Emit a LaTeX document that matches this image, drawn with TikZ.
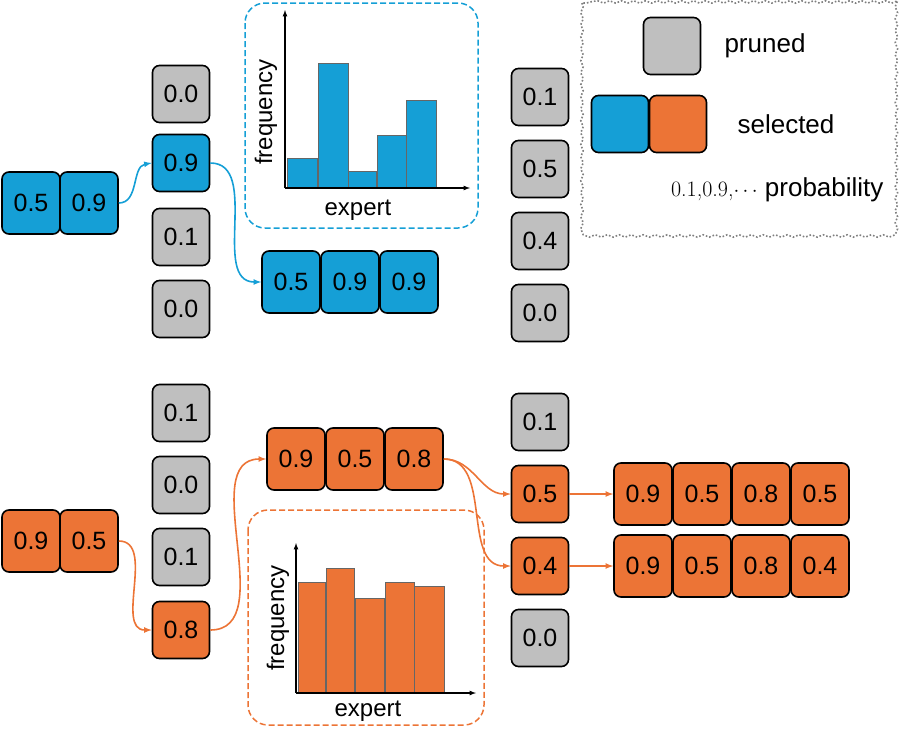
\documentclass[tikz,border=0pt]{standalone}
\usepackage{fontspec}
\setmainfont{Liberation Sans}
\usetikzlibrary{decorations.pathmorphing}
\definecolor{cb}{HTML}{159FD6}
\definecolor{co}{HTML}{EC7436}
\definecolor{cg}{HTML}{BFBFBF}
\begin{document}
\begin{tikzpicture}[x=1pt,y=-1pt,
 cell/.style={draw=black,line width=1.6pt,rounded corners=7pt,minimum width=57pt,minimum height=57pt,inner sep=0pt,font=\fontsize{25}{25}\selectfont},
 gcell/.style={cell,fill=cg},
 bcell/.style={cell,fill=cb},
 ocell/.style={cell,fill=co},
 wide/.style={minimum width=58pt,minimum height=62pt},
 barb/.style={draw=black!60,line width=0.5pt,fill=cb},
 baro/.style={draw=black!60,line width=0.5pt,fill=co},
 ax/.style={line width=1.2pt,-latex},
 lab/.style={font=\fontsize{24}{24}\selectfont},
 ba/.style={cb,line width=1.6pt,-latex},
 oa/.style={co,line width=1.6pt,-latex}]
\useasboundingbox (0,0) rectangle (900,729);
% blue left pair
\node[bcell,wide] (b1) at (31,203) {0.5};
\node[bcell,wide] (b2) at (89,203) {0.9};
% left top column
\node[gcell] (c1) at (181,94) {0.0};
\node[bcell] (c2) at (181,163) {0.9};
\node[gcell] (c3) at (181,237) {0.1};
\node[gcell] (c4) at (181,309) {0.0};
% blue triple
\node[bcell,wide] (t1) at (291,282) {0.5};
\node[bcell,wide] (t2) at (350,282) {0.9};
\node[bcell,wide] (t3) at (409,282) {0.9};
% right top column
\node[gcell] (r1) at (540,97) {0.1};
\node[gcell] (r2) at (540,169) {0.5};
\node[gcell] (r3) at (540,241) {0.4};
\node[gcell] (r4) at (540,313) {0.0};
% bottom left column
\node[gcell] (d1) at (181,413) {0.1};
\node[gcell] (d2) at (181,485) {0.0};
\node[gcell] (d3) at (181,557) {0.1};
\node[ocell] (d4) at (181,630) {0.8};
% orange pair
\node[ocell,wide] (o1) at (31,541) {0.9};
\node[ocell,wide] (o2) at (89,541) {0.5};
% orange triple
\node[ocell,wide] (p1) at (296,459) {0.9};
\node[ocell,wide] (p2) at (355,459) {0.5};
\node[ocell,wide] (p3) at (414,459) {0.8};
% right bottom column
\node[gcell] (e1) at (540,422) {0.1};
\node[ocell] (e2) at (540,494) {0.5};
\node[ocell] (e3) at (540,566) {0.4};
\node[gcell] (e4) at (540,638) {0.0};
% quads
\node[ocell,wide] (q1) at (643,494) {0.9};
\node[ocell,wide] (q2) at (702,494) {0.5};
\node[ocell,wide] (q3) at (761,494) {0.8};
\node[ocell,wide] (q4) at (820,494) {0.5};
\node[ocell,wide] (s1) at (643,566) {0.9};
\node[ocell,wide] (s2) at (702,566) {0.5};
\node[ocell,wide] (s3) at (761,566) {0.8};
\node[ocell,wide] (s4) at (820,566) {0.4};
% arrows
\draw[ba] (b2.east) to[out=0,in=190] (c2.west);
\draw[ba] (c2.east) to[out=0,in=180] (t1.west);
\draw[oa] (o2.east) to[out=0,in=180] (d4.west);
\draw[oa] (d4.east) to[out=0,in=180] (p1.west);
\draw[oa] (p3.east) to[out=0,in=180] (e2.west);
\draw[oa] (p3.east) to[out=0,in=180] (e3.west);
\draw[oa] (e2.east) -- (q1.west);
\draw[oa] (e3.east) -- (s1.west);
% top histogram
\draw[cb,line width=1.5pt,dashed,dash pattern=on 6pt off 3pt,rounded corners=20pt] (245,3) rectangle (478,228);
\draw[barb] (287,188) rectangle (317,158);
\draw[barb] (318,188) rectangle (348,63);
\draw[barb] (348,188) rectangle (376,171);
\draw[barb] (377,188) rectangle (406,135);
\draw[barb] (406,188) rectangle (436,100);
\draw[ax] (285,188) -- (285,10);
\draw[ax] (285,188) -- (470,188);
\node[lab,rotate=90] (hf1) at (266,112) {frequency};
\node[lab] (he1) at (358,210) {expert};
% bottom histogram
\draw[co,line width=1.5pt,dash pattern=on 6pt off 3pt,rounded corners=20pt] (248,510) rectangle (484,725);
\draw[baro] (298,693) rectangle (325,582);
\draw[baro] (326,693) rectangle (354,568);
\draw[baro] (355,693) rectangle (384,598);
\draw[baro] (385,693) rectangle (414,582);
\draw[baro] (414,693) rectangle (444,586);
\draw[ax] (296,693) -- (296,543);
\draw[ax] (296,693) -- (476,693);
\node[lab,rotate=90] (hf2) at (278,618) {frequency};
\node[lab] (he2) at (368,711) {expert};
% legend
\draw[black!50,line width=1.6pt,dotted,decorate,decoration={snake,amplitude=1.2pt,segment length=12pt}] (582,3) rectangle (895,233);
\node[gcell] (lg) at (672,46) {};
\node[bcell] (lb) at (620,124) {};
\node[ocell] (lo) at (678,124) {};
\node[lab,font=\fontsize{26}{26}\selectfont] (lt1) at (765,46) {pruned};
\node[lab,font=\fontsize{26}{26}\selectfont] (lt2) at (786,124) {selected};
\node[lab,font=\fontsize{26}{26}\selectfont,anchor=east] (lt3) at (887,190) {{\fontspec{Latin Modern Roman}\fontsize{22}{22}\selectfont 0.1,0.9,$\cdots$} probability};
\end{tikzpicture}
\end{document}
